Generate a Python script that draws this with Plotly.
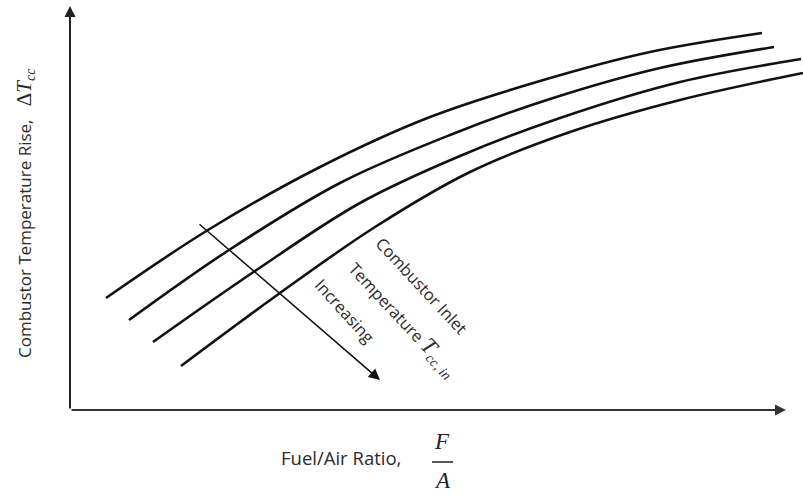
import plotly.graph_objects as go

# Schematic data (arbitrary units: fuel/air ratio vs temperature rise)
# Four curves, combustor inlet temperature increasing from curve 1 to curve 4
fa_1 = [36, 138, 250, 360, 470, 580, 692]
dt_1 = [112, 180, 243, 293, 329, 358, 377]

fa_2 = [59, 159, 270, 380, 480, 590, 704]
dt_2 = [90, 160, 227, 275, 311, 342, 363]

fa_3 = [83, 185, 290, 390, 490, 610, 731]
dt_3 = [68, 139, 207, 254, 292, 328, 351]

fa_4 = [111, 210, 305, 400, 500, 610, 733]
dt_4 = [44, 117, 183, 238, 278, 310, 337]

curves = [(fa_1, dt_1), (fa_2, dt_2), (fa_3, dt_3), (fa_4, dt_4)]

fig = go.Figure()
for xs, ys in curves:
    fig.add_trace(go.Scatter(x=xs, y=ys, mode="lines",
                             line=dict(color="#111111", width=2.6, shape="spline", smoothing=1.0),
                             hoverinfo="skip", showlegend=False))

txt_font = dict(family="Open Sans", size=16.5, color="#2a2a2a")
serif = "Liberation Serif"

annotations = [
    # y axis arrow
    dict(x=0, y=404, ax=0, ay=0, xref="x", yref="y", axref="x", ayref="y",
         showarrow=True, arrowhead=2, arrowwidth=2, arrowsize=1.1, arrowcolor="#222", text=""),
    # x axis arrow
    dict(x=716, y=0, ax=0, ay=0, xref="x", yref="y", axref="x", ayref="y",
         showarrow=True, arrowhead=2, arrowwidth=2, arrowsize=1.1, arrowcolor="#333", text=""),
    # diagonal "increasing" arrow
    dict(x=310, y=30, ax=128, ay=187, xref="x", yref="y", axref="x", ayref="y",
         showarrow=True, arrowhead=2, arrowwidth=1.5, arrowsize=1.5, arrowcolor="#111", text=""),
    # y title
    dict(x=-45, y=197, xref="x", yref="y", showarrow=False, textangle=-90,
         text='Combustor Temperature Rise,&nbsp;&nbsp;&nbsp;'
              '<span style="font-family:%s;font-size:21px">Δ<i>T</i></span>'
              '<span style="font-family:%s;font-size:20px"><sub><i>cc</i></sub></span>' % (serif, serif),
         font=dict(family="Open Sans", size=17, color="#2a2a2a")),
    # x title
    dict(x=271, y=-47, xref="x", yref="y", showarrow=False,
         text="Fuel/Air Ratio,", font=dict(family="Open Sans", size=18.5, color="#2a2a2a")),
    dict(x=372, y=-31, xref="x", yref="y", showarrow=False,
         text="<i>F</i>", font=dict(family=serif, size=23, color="#222")),
    dict(x=372, y=-70, xref="x", yref="y", showarrow=False,
         text="<i>A</i>", font=dict(family=serif, size=23, color="#222")),
    # rotated labels
    dict(x=352, y=125, xref="x", yref="y", showarrow=False, textangle=47,
         text="Combustor Inlet", font=txt_font),
    dict(x=333, y=91, xref="x", yref="y", showarrow=False, textangle=47,
         text='Temperature <span style="font-family:%s;font-size:23px"><i>T</i></span>'
              '<span style="font-family:%s;font-size:20px"><sub><i>cc, in</i></sub></span>' % (serif, serif),
         font=txt_font),
    dict(x=275, y=100, xref="x", yref="y", showarrow=False, textangle=48,
         text="Increasing", font=txt_font),
]

shapes = [
    dict(type="line", xref="x", yref="y", x0=362, x1=383, y0=-52, y1=-52,
         line=dict(color="#222", width=1.5)),
]

fig.update_layout(
    width=803, height=494,
    margin=dict(l=0, r=0, t=0, b=0),
    paper_bgcolor="white", plot_bgcolor="white",
    xaxis=dict(range=[-70, 733], visible=False, fixedrange=True),
    yaxis=dict(range=[-84, 410], visible=False, fixedrange=True),
    annotations=annotations, shapes=shapes,
)

fig.write_html("out.html")
